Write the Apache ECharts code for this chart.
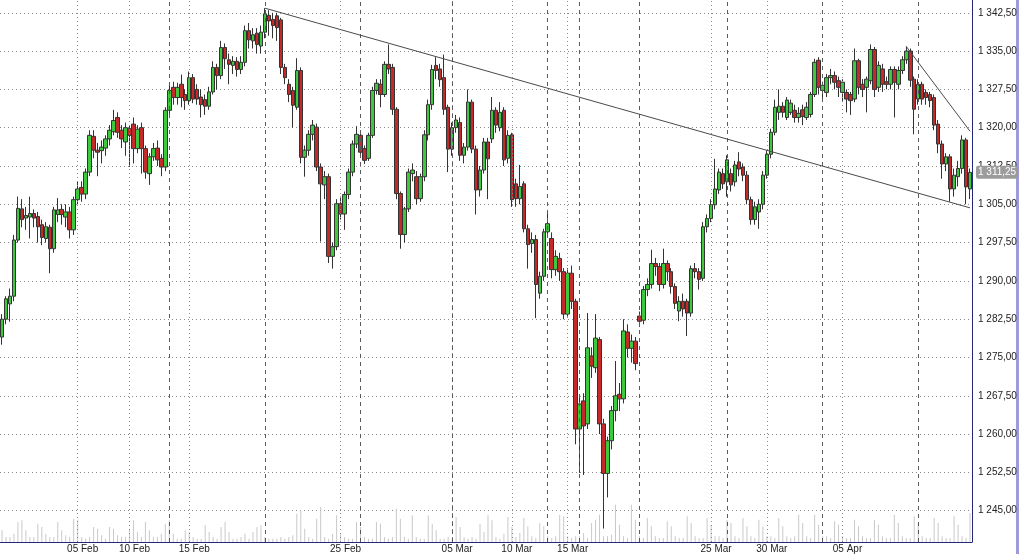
<!DOCTYPE html>
<html>
<head>
<meta charset="utf-8">
<script src="https://cdn.jsdelivr.net/npm/echarts/dist/echarts.min.js"></script>
<style>
  html, body { margin: 0; padding: 0; background: #ffffff; }
  #chart { width: 1024px; height: 554px; }
</style>
</head>
<body>
<div id="chart"></div>
<script>
// ---- data: one candle per entry, [open, close, low, high] ----
const ohlc = [
  [1279,1282.5,1277.5,1283.5],[1282.5,1286.5,1281.5,1287],[1285.5,1287,1282,1288.5],[1287,1298,1286,1299],[1298,1304.2,1297.5,1306.5],
  [1304.1,1302,1300.5,1306],[1302.3,1302.8,1300,1304.5],[1302.5,1303.2,1298.3,1306.5],[1303.2,1302.3,1300.5,1304],[1302.6,1300.6,1297.5,1303.5],
  [1301,1298.5,1297,1302],[1298.3,1300.6,1297.5,1301.5],[1300.5,1296.3,1291.5,1301],[1296.3,1303.9,1295.5,1304.5],[1303,1303.9,1301.5,1306.2],
  [1304,1303,1301,1305],[1302.5,1303.5,1300.5,1305],[1303.5,1300,1298.3,1304.5],[1300,1305.9,1299,1306.5],[1305.9,1308,1305,1309.5],
  [1308.3,1307,1305.5,1309.5],[1307,1311.3,1306,1312],[1311.3,1318.5,1310.5,1319.5],[1318.3,1315.6,1314,1319.5],[1315.6,1315.2,1310.5,1317],
  [1315.5,1316.2,1313,1317.5],[1316,1317.8,1314.5,1318.5],[1317.8,1319.5,1316.5,1320.5],[1319.2,1321.4,1318.5,1323.5],[1322,1319.1,1318,1323],
  [1319.5,1317.8,1316,1320.5],[1317.2,1320,1314.5,1321],[1319.8,1318.5,1312.3,1320.5],[1320.7,1315.9,1313,1322],[1315.9,1319.7,1315,1320.5],
  [1320,1315.9,1311,1321],[1315.9,1311.3,1310,1316.5],[1311,1314.3,1308.8,1315],[1314.3,1315.9,1313.5,1317],[1316,1313.7,1312.5,1317.5],
  [1314,1312.3,1310.5,1314.8],[1312.3,1323.4,1311.5,1324],[1323.4,1327.3,1322,1328.2],[1327.9,1325.9,1324.5,1329],[1325.9,1327.9,1324.5,1328.8],
  [1328.5,1325.9,1324,1330.4],[1326.5,1325.3,1323.5,1327.5],[1325.3,1329.8,1324.5,1331],[1329.8,1325.6,1324.8,1330.5],[1327.5,1325.6,1324.5,1328.5],
  [1326,1324.5,1322,1327.5],[1325.5,1324.2,1322.5,1326.5],[1324.2,1327,1323.5,1328],[1327,1331.8,1326.5,1333],[1331.8,1330.2,1327.5,1332.5],
  [1330.2,1335.7,1329.5,1337],[1335.7,1333.5,1331.5,1336.5],[1333.3,1332.4,1328.5,1334.5],[1332.2,1333,1330.5,1334],[1333,1331.4,1330,1333.8],
  [1331.4,1332.8,1330.5,1334],[1332.8,1339,1332,1340],[1339,1337.2,1335.5,1340.5],[1337,1338.2,1335.5,1339.5],[1338.5,1336.3,1334.5,1339.5],
  [1336,1338.7,1334.5,1340],[1338.7,1342.3,1337.5,1343.4],[1342,1340.9,1338,1343],[1341.2,1340,1337.5,1342.5],[1341.9,1339.6,1337,1342.5],
  [1341.1,1331.8,1330.5,1341.5],[1331.8,1329.8,1328.5,1332.5],[1328.5,1326.5,1325,1329.5],[1327.3,1324.4,1320,1328],[1324,1331.2,1323.5,1333.6],
  [1331.2,1314.2,1313,1331.8],[1314.2,1315.6,1310.4,1316.5],[1315.6,1318.7,1314.5,1319.5],[1318.7,1320.5,1317.5,1321.5],[1320.1,1312.3,1311.5,1320.8],
  [1312.3,1309,1297.7,1313],[1308.8,1310.4,1306,1311.5],[1310.4,1294.8,1293.5,1311],[1294.8,1296.7,1292.4,1297.5],[1296.7,1305.1,1296,1306],
  [1305.1,1303.1,1302,1306.5],[1303.1,1306.9,1300,1307.5],[1306.9,1311.3,1306,1312],[1311.3,1316.8,1310.5,1317.5],[1316.8,1318.7,1316,1320.3],
  [1318.5,1315.2,1314.5,1319.5],[1315.9,1313.6,1312.9,1316.5],[1314,1318.5,1313.5,1319],[1318.5,1327.3,1318,1328],[1327.3,1328.7,1326.5,1329.5],
  [1328.5,1326.5,1324,1329.5],[1326.5,1332.4,1326,1333],[1332.4,1331.5,1330.5,1336.3],[1331.8,1323.6,1322.5,1332.5],[1323.6,1307.1,1306,1324],
  [1307.1,1299.1,1296.3,1307.5],[1299.1,1304.1,1297.5,1304.5],[1304.1,1311.3,1303.5,1312],[1311,1311.7,1309.5,1313],[1310.4,1306.1,1305,1311.5],
  [1306.1,1310.4,1305.5,1311],[1310.4,1318.6,1309.5,1319.5],[1318.6,1324.5,1317.5,1325.5],[1324.5,1331.4,1323.5,1332.3],[1332.2,1331.2,1329.5,1333.8],
  [1331.5,1329.4,1328,1332.5],[1329.8,1323.6,1322.5,1334.3],[1324,1315.8,1311.3,1324.5],[1315.8,1320,1314.5,1321],[1320,1321.5,1319,1322.5],
  [1321,1314.6,1313.5,1322],[1314.6,1316.2,1313,1317],[1316.2,1325,1315.5,1327.5],[1325,1315.8,1315,1325.5],[1315.8,1307.8,1303,1316.5],
  [1307.8,1311.7,1306.5,1312.5],[1311.7,1317.2,1311,1318],[1317.2,1313.9,1306,1318],[1317.8,1323.4,1317,1326],[1323.4,1320.5,1319,1324],
  [1320,1323,1319.3,1325],[1323.4,1313.7,1312.5,1324],[1314,1318.5,1313,1319.5],[1318.6,1305.9,1304.5,1319],[1309,1306.1,1304.5,1310],
  [1306.1,1308.5,1305,1312.7],[1309,1300.2,1299.5,1309.5],[1300.2,1297.1,1292.4,1301],[1297.3,1298.1,1295.5,1299.5],[1298.1,1289.3,1282.7,1299],
  [1287.6,1290.9,1286.5,1291.8],[1290.9,1299.6,1290,1300.2],[1299.6,1301.2,1298.5,1303.9],[1298.3,1292.2,1290.5,1299.5],[1292.2,1294.8,1291,1296],
  [1294.4,1291.8,1290,1295.5],[1291.8,1283.5,1282.5,1292.5],[1283.5,1291.5,1283,1292.5],[1291.5,1286,1284.5,1293],[1286,1261,1258,1286.5],
  [1261,1265.9,1252.4,1267.5],[1266.5,1261.6,1252,1268],[1262,1276.9,1261,1283.7],[1275.3,1273.3,1271,1277],[1273,1278.8,1272,1283.5],
  [1278.5,1262,1260,1279],[1262,1252.3,1241.5,1263],[1252.3,1258.7,1247.6,1259.5],[1258.7,1264.6,1257,1265.5],[1264.6,1267.5,1262.5,1274.3],
  [1267.8,1266.9,1264.5,1270],[1266.9,1280.2,1266,1282.5],[1280,1276.8,1275,1281.5],[1276.8,1278.2,1274,1279.5],[1278.2,1273.8,1272.5,1279],
  [1283.1,1282.1,1281,1284],[1282.3,1288.3,1281.5,1289],[1288.3,1289.3,1287,1290.5],[1289.3,1293.4,1288.5,1296.1],[1293.4,1292.8,1291,1294.5],
  [1292.8,1289.3,1288,1293.5],[1289.3,1293.4,1288.5,1296.3],[1293.4,1291.8,1290,1294],[1291.8,1288.9,1287.5,1292.5],[1288.9,1285.6,1284.5,1289.5],
  [1284.1,1286,1282.1,1287],[1286,1284.5,1283,1287.5],[1286,1283.7,1279.2,1286.5],[1283.7,1292.4,1283,1293],[1292.4,1291.8,1290.5,1293.5],
  [1291.8,1290.3,1288.3,1292.5],[1290.5,1300.6,1290,1301.5],[1300.6,1302.2,1299.5,1303],[1302.2,1304.9,1301.5,1306],[1304.9,1308,1304,1313.9],
  [1307.8,1311.3,1307,1312],[1311,1309,1308,1312],[1309.4,1313.7,1306.5,1314.6],[1311,1308.8,1307.5,1312],[1309.4,1312.7,1308.5,1313.5],
  [1313.3,1311.9,1310.5,1315.2],[1312.3,1310.7,1309.5,1313],[1310.7,1305.9,1305,1311.5],[1305.9,1302,1301,1306.5],[1302,1304.5,1301,1305.5],
  [1303.5,1305,1300.2,1306],[1305,1310.7,1304,1311.5],[1310.7,1314.8,1310,1315.5],[1314.8,1319.1,1314,1319.8],[1319.1,1324,1318.5,1325.5],
  [1323,1324.2,1321.5,1327.5],[1324.2,1323,1322,1325],[1322,1325.4,1321.5,1326],[1323,1324.8,1322.5,1325.5],[1323.4,1322,1321,1324.5],
  [1322,1322.8,1321,1324],[1323.5,1322.2,1320.5,1324.5],[1322,1324,1321.5,1325],[1322.6,1326.5,1322,1327],[1326.5,1332.8,1326,1333.5],
  [1333.2,1327.9,1326.5,1333.8],[1327.3,1328.3,1325.5,1329],[1326.9,1329.8,1326,1330.5],[1329.8,1330.2,1328.5,1331.5],[1330.2,1328.9,1327.5,1331],
  [1329.2,1327.9,1326,1330],[1326.9,1328.9,1325,1329.5],[1326.9,1325.6,1323,1327.5],[1326.5,1325.3,1322.5,1327],[1325.6,1333.1,1325,1335.5],
  [1333.1,1327.9,1326.5,1333.5],[1328.5,1327.5,1326,1329.5],[1327.9,1329.5,1323,1330],[1329.2,1335.3,1328.5,1336.3],[1335.3,1327.5,1326,1335.8],
  [1327.9,1332.2,1327,1333],[1331.5,1328.5,1327,1332.5],[1329,1328.5,1327.5,1330],[1328.5,1331.4,1327.5,1332],[1331.4,1328.9,1322,1332],
  [1328.5,1331.2,1327.5,1332],[1331.2,1333.3,1330.5,1334],[1333.3,1335,1332.5,1335.9],[1335,1329.3,1328,1335.5],[1329.5,1323.6,1318.7,1330],
  [1325.6,1328.5,1324.5,1329.5],[1328.5,1325.6,1324.5,1329],[1326.9,1325.9,1324.5,1327.5],[1326.5,1325.3,1324,1327],[1325.9,1320.5,1319.5,1326.5],
  [1320.7,1316.8,1315,1321.5],[1316.8,1312.9,1310,1317.5],[1312.9,1314.3,1311.5,1315],[1314.3,1308,1305.5,1314.8],[1308,1310.7,1306.5,1312],
  [1310.4,1312,1308.5,1313.5],[1312,1317.6,1311,1318.5],[1317.6,1308.4,1305,1318],[1308,1311.25,1306,1312]
];

// volume per candle (contracts, hundreds)
const volume = [
  117,50,50,83,200,217,117,50,50, 183,150,83,50,50,200,117,67,50,
  233,217,50,33,50,150,133,67,33, 150,133,67,50,50,133,217,100,50,
  200,117,50,50,83,183,217,83,33, 33,117,100,50,33,33,167,100,50,
  33,150,200,100,33,33,50,83,33, 100,150,167,50,33,33,33,50,33,
  50,67,283,317,133,50,33,233,350, 50,33,83,267,83,50,33,33,200,
  150,50,33,33,200,183,50,33,50, 333,233,50,33,267,50,33,33,267,
  183,117,33,33,50,33,250,150,50, 33,50,33,183,100,267,217,50,33,
  83,250,150,50,
  90,240,157,57,40,190,157,57,40,57, 273,257,57,40,57,57,90,40,190,223,
  273,57,57,73,373,173,57,40,373,223, 57,40,240,157,57,40,40,207,157,57,
  40,40,257,190,57,40,40,240,173,57, 57,40,223,190,57,40,240,157,57,40,
  223,157,57,57,40,240,157,57,40,57, 273,190,57,40,273,173,57,57,40,207,
  173,57,40,40,223,157,57,40,40,223, 173,57,40,40,273,190,57,40,40,257,
  190,57,40,40,240,190,57,40,40,257, 173,57,40,290
];

// axis / annotation values
const priceMin = 1237.5, priceMax = 1345, priceStep = 7.5;
const dayTickIdx = [19, 32, 47, 85, 113, 128, 142, 178, 192, 211];
const dayTickLabels = ['05 Feb','10 Feb','15 Feb','25 Feb','05 Mar','10 Mar','15 Mar','25 Mar','30 Mar','05 Apr'];
const weekLineIdx = [42, 66, 90, 113, 137, 145, 160, 182, 206, 230];
const trendLines = [[66, 1343.4, 243, 1304.3], [227, 1335.9, 243, 1319.3]];
const lastPrice = 1311.25;

const cats = ohlc.map((_, i) => String(i));
const labelMap = {};
dayTickIdx.forEach((idx, k) => { labelMap[idx] = dayTickLabels[k]; });

function fmt(v) {
  const parts = Number(v).toFixed(2).split('.');
  return parts[0].replace(/\B(?=(\d{3})+(?!\d))/g, ' ') + ',' + parts[1];
}

const FONT = '"Liberation Sans", Arial, sans-serif';
const NAVY = '#22287a';

const vLines = [];
dayTickIdx.forEach(i => vLines.push({ xAxis: String(i), lineStyle: { type: [1, 3], color: '#8a8a8a', width: 1 } }));
weekLineIdx.forEach(i => vLines.push({ xAxis: String(i), lineStyle: { type: [4, 4], color: '#5a5a5a', width: 1 } }));

const candleMarks = trendLines.map(t => [
  { coord: [String(t[0]), t[1]] },
  { coord: [String(t[2]), t[3]] }
]);
candleMarks.push({
  yAxis: lastPrice,
  lineStyle: { color: 'rgba(0,0,0,0)', width: 0 },
  label: {
    show: true, position: 'end', distance: 4,
    formatter: fmt(lastPrice),
    color: '#ffffff', fontSize: 10, fontFamily: FONT,
    backgroundColor: '#9c9c9c', padding: [2, 2, 1, 2], borderRadius: 2
  }
});

const chart = echarts.init(document.getElementById('chart'), null, { renderer: 'canvas' });
chart.setOption({
  animation: false,
  backgroundColor: '#ffffff',
  grid: [
    { left: 0, right: 52, top: -2.833, height: 551.833 },
    { left: 0, right: 52, top: 0, height: 542 }
  ],
  xAxis: [
    { type: 'category', gridIndex: 0, data: cats, boundaryGap: true, show: false },
    {
      type: 'category', gridIndex: 1, data: cats, boundaryGap: true,
      axisLine: { show: true, lineStyle: { color: NAVY, width: 1 } },
      axisTick: { show: false },
      splitLine: { show: false },
      axisLabel: {
        interval: (i) => labelMap[i] !== undefined,
        formatter: (v, i) => labelMap[i] || '',
        fontSize: 10, fontFamily: FONT, color: '#222222',
        margin: 2, padding: [0, 0, 0, 10]
      }
    }
  ],
  yAxis: [
    {
      type: 'value', gridIndex: 0, position: 'right',
      min: priceMin, max: priceMax, interval: priceStep,
      axisLine: { show: false }, axisTick: { show: false },
      axisLabel: {
        formatter: fmt, showMinLabel: false, showMaxLabel: false,
        margin: 6, fontSize: 10, fontFamily: FONT, color: '#222222'
      },
      splitLine: {
        show: true, showMinLine: false, showMaxLine: false,
        lineStyle: { color: '#8a8a8a', type: [1, 3], width: 1 }
      }
    },
    {
      type: 'value', gridIndex: 1, position: 'right', min: 0, max: 5420,
      axisLine: { show: true, lineStyle: { color: NAVY, width: 1 } },
      axisTick: { show: false }, axisLabel: { show: false }, splitLine: { show: false }
    }
  ],
  series: [
    {
      type: 'bar', xAxisIndex: 1, yAxisIndex: 1, data: volume,
      barWidth: 1, itemStyle: { color: '#c9c9c9' }, silent: true,
      markLine: { symbol: ['none', 'none'], silent: true, label: { show: false }, data: vLines }
    },
    {
      type: 'candlestick', xAxisIndex: 0, yAxisIndex: 0, data: ohlc,
      barWidth: 4,
      itemStyle: {
        color: '#3dc83d', color0: '#c42a2a',
        borderColor: '#333333', borderColor0: '#333333', borderWidth: 1
      },
      markLine: {
        symbol: ['none', 'none'], silent: true,
        label: { show: false },
        lineStyle: { color: '#4a4a4a', width: 1, type: 'solid' },
        data: candleMarks
      }
    }
  ],
  graphic: [
    { type: 'rect', shape: { x: 1016, y: 0, width: 3, height: 554 }, style: { fill: '#9d9bd9' }, silent: true }
  ]
});
</script>
</body>
</html>
